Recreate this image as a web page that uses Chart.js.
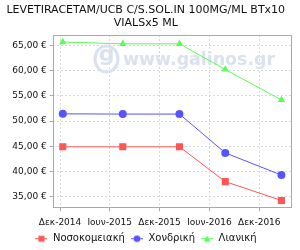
<!DOCTYPE html>
<html>
<head>
<meta charset="utf-8">
<script src="https://cdn.jsdelivr.net/npm/chart.js@4/dist/chart.umd.min.js"></script>
<style>
  html, body { margin: 0; padding: 0; background: #fff; }
  #wrap { width: 300px; height: 250px; }
</style>
</head>
<body>
<div id="wrap"><canvas id="chart"></canvas></div>
<script>
// ─── Data ───────────────────────────────────────────────────────────────────

const titleLines = ['LEVETIRACETAM/UCB C/S.SOL.IN 100MG/ML BTx10', 'VIALSx5 ML'];

const priceDates = ['2014-12-11', '2015-07-19', '2016-02-12', '2016-07-29', '2017-02-20'];
const hospitalPrices = [44.9, 44.9, 44.9, 38.0, 34.25];   // Νοσοκομειακή
const wholesalePrices = [51.45, 51.4, 51.4, 43.7, 39.3];  // Χονδρική
const retailPrices = [65.7, 65.35, 65.35, 60.25, 54.2];   // Λιανική

const tickDates = ['2014-12-01', '2015-06-01', '2015-12-01', '2016-06-01', '2016-12-01'];
const tickLabels = ['Δεκ-2014', 'Ιουν-2015', 'Δεκ-2015', 'Ιουν-2016', 'Δεκ-2016'];
const yTicks = [35, 40, 45, 50, 55, 60, 65];

const xRange = ['2014-11-04', '2017-03-29'];
const yRange = [32.7, 67.1];

// ─── Helpers ────────────────────────────────────────────────────────────────

const FONT = 'DejaVu Sans';
const toMs = (s) => Date.parse(s + 'T00:00:00Z');
const toPoints = (vals) => vals.map((v, i) => ({ x: toMs(priceDates[i]), y: v }));

// legend swatch: short line with the series marker on it
function legendIcon(color, style) {
  const c = document.createElement('canvas');
  c.width = 12;
  c.height = 9;
  const ctx = c.getContext('2d');
  ctx.strokeStyle = color;
  ctx.fillStyle = color;
  ctx.lineWidth = 1;
  ctx.beginPath();
  ctx.moveTo(0, 4.5);
  ctx.lineTo(12, 4.5);
  ctx.stroke();
  ctx.beginPath();
  if (style === 'rect') {
    ctx.rect(3, 1.5, 6, 6);
  } else if (style === 'circle') {
    ctx.arc(6, 4.5, 3.3, 0, Math.PI * 2);
  } else {
    ctx.moveTo(6, 1.2);
    ctx.lineTo(9.2, 7.5);
    ctx.lineTo(2.8, 7.5);
    ctx.closePath();
  }
  ctx.fill();
  return c;
}

// plot frame + galinos watermark
const framePlugin = {
  id: 'frame',
  beforeDatasetsDraw(chart) {
    const ctx = chart.ctx;
    ctx.save();
    ctx.fillStyle = '#d9e2ee';
    ctx.strokeStyle = '#d9e2ee';
    ctx.lineWidth = 3;
    ctx.beginPath();
    ctx.ellipse(106.5, 59, 11.5, 13, 0, 0, Math.PI * 2);
    ctx.stroke();
    ctx.font = 'bold 22px ' + FONT;
    ctx.textAlign = 'center';
    ctx.textBaseline = 'middle';
    ctx.fillText('g', 106.5, 55);
    ctx.font = 'bold 17.5px ' + FONT;
    ctx.textAlign = 'left';
    ctx.textBaseline = 'alphabetic';
    ctx.fillText('www.galinos.gr', 123, 65, 152);
    ctx.restore();
  },
  afterDraw(chart) {
    const a = chart.chartArea;
    const ctx = chart.ctx;
    ctx.save();
    ctx.strokeStyle = '#aaaaaa';
    ctx.lineWidth = 1;
    ctx.strokeRect(Math.round(a.left) + 0.5, Math.round(a.top) + 0.5,
      Math.round(a.right - a.left) - 1, Math.round(a.bottom - a.top) - 1);
    ctx.restore();
  }
};

const series = [
  { label: 'Νοσοκομειακή', data: hospitalPrices, color: '#ff5555', style: 'rect', radius: 5 },
  { label: 'Χονδρική', data: wholesalePrices, color: '#5555ff', style: 'circle', radius: 4 },
  { label: 'Λιανική', data: retailPrices, color: '#55ff55', style: 'triangle', radius: 4.2 }
];

const datasets = series.map(s => ({
  label: s.label,
  data: toPoints(s.data),
  borderColor: s.color,
  backgroundColor: s.color,
  borderWidth: 1,
  pointStyle: s.style,
  pointRadius: s.radius,
  pointBorderWidth: 0,
  pointBackgroundColor: s.color,
  legendIcon: legendIcon(s.color, s.style),
  tension: 0
}));

new Chart(document.getElementById('chart'), {
  type: 'line',
  data: { datasets },
  plugins: [framePlugin],
  options: {
    responsive: true,
    maintainAspectRatio: false,
    animation: false,
    events: [],
    layout: { padding: { left: 0, right: 8.5, top: 0, bottom: -3.7 } },
    plugins: {
      title: {
        display: true,
        text: titleLines,
        color: '#111',
        font: { family: FONT, size: 11, weight: 'normal', lineHeight: 1.136 },
        padding: { top: 4, bottom: 6 }
      },
      legend: {
        position: 'bottom',
        labels: {
          color: '#111',
          font: { family: FONT, size: 10 },
          usePointStyle: true,
          pointStyleWidth: 13,
          padding: 5.5,
          generateLabels: (chart) => chart.data.datasets.map((ds, i) => ({
            text: ds.label,
            pointStyle: ds.legendIcon,
            fillStyle: ds.borderColor,
            strokeStyle: ds.borderColor,
            fontColor: '#111',
            lineWidth: 0,
            datasetIndex: i
          }))
        }
      },
      tooltip: { enabled: false }
    },
    scales: {
      x: {
        type: 'linear',
        min: toMs(xRange[0]),
        max: toMs(xRange[1]),
        afterBuildTicks: (scale) => { scale.ticks = tickDates.map(d => ({ value: toMs(d) })); },
        afterFit: (scale) => { scale.height = 19.9; },
        ticks: {
          autoSkip: false,
          maxRotation: 0,
          color: '#111',
          padding: 5.5,
          font: { family: FONT, size: 9 },
          callback: (val) => tickLabels[tickDates.map(toMs).indexOf(val)] || ''
        },
        grid: { color: '#d8d8d8', tickColor: '#aaaaaa', tickLength: 3, tickBorderDash: [] },
        border: { display: false, dash: [2, 2] }
      },
      y: {
        type: 'linear',
        min: yRange[0],
        max: yRange[1],
        afterBuildTicks: (scale) => { scale.ticks = yTicks.map(v => ({ value: v })); },
        afterFit: (scale) => { scale.width = 52.7; },
        ticks: {
          color: '#111',
          padding: 3,
          font: { family: FONT, size: 9 },
          callback: (val) => val.toFixed(2).replace('.', ',') + ' €'
        },
        grid: { color: '#d8d8d8', tickColor: '#aaaaaa', tickLength: 3, tickBorderDash: [] },
        border: { display: false, dash: [2, 2] }
      }
    }
  }
});
</script>
</body>
</html>
